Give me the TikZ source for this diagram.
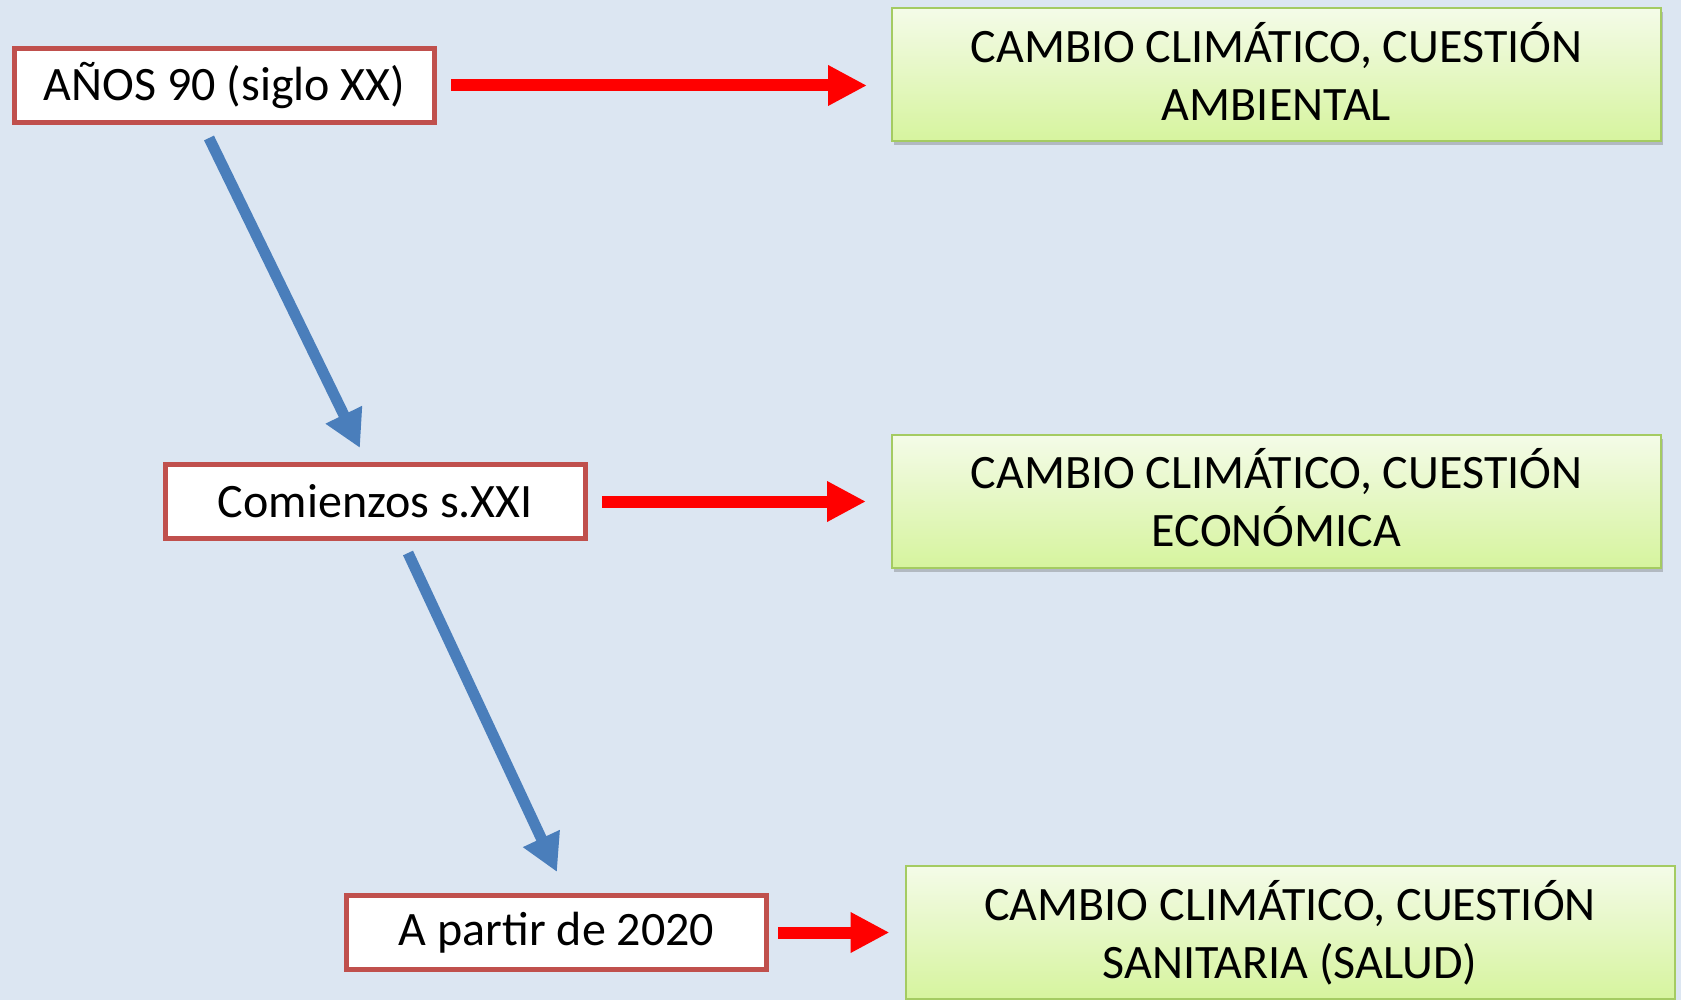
\documentclass[tikz,border=0pt]{standalone}
\usepackage{fontspec}
\setmainfont{Carlito}
\usetikzlibrary{arrows.meta,shadows}
\definecolor{bg}{HTML}{DCE6F2}
\definecolor{boxred}{HTML}{C0504D}
\definecolor{arrred}{HTML}{FF0000}
\definecolor{arrblue}{HTML}{4A7EBB}
\definecolor{gtop}{HTML}{F4FBE8}
\definecolor{gbot}{HTML}{D6F49E}
\definecolor{boxgreen}{HTML}{A4CB62}
\newcommand{\twolines}[2]{\begin{tabular}{@{}c@{}}\rule{0pt}{50.6pt}#1\\#2\end{tabular}}
\begin{document}
\begin{tikzpicture}[x=1pt,y=-1pt,
  redbox/.style={draw=boxred, line width=5pt, fill=white, minimum width=420pt, minimum height=74pt, inner sep=0pt, font=\fontsize{48}{58}\selectfont},
  greenbox/.style={draw=boxgreen, line width=2pt, top color=gtop, bottom color=gbot, minimum width=769pt, minimum height=133pt, inner sep=0pt, font=\fontsize{48}{58}\selectfont, drop shadow={shadow xshift=1.5pt, shadow yshift=-4pt, opacity=0.35, fill=black!60}},
  redarrow/.style={draw=arrred, line width=12pt, -{Triangle[length=39pt,width=38pt]}},
  bluearrow/.style={draw=arrblue, line width=11pt, -{Triangle[length=37pt,width=38pt]}}
]
\useasboundingbox (0,0) rectangle (1681,1000);
\fill[bg] (0,0) rectangle (1681,1000);

\node[redbox] (a) at (224.5,85.5) {AÑOS 90 (siglo XX)};
\node[redbox] (b) at (375.5,501.5) {Comienzos s.XXI};
\node[redbox] (c) at (556.5,932.5) {A partir de 2020};

\node[greenbox] (g1) at (1276.5,75) {\twolines{CAMBIO CLIMÁTICO, CUESTIÓN}{AMBIENTAL}};
\node[greenbox] (g2) at (1276.5,501) {\twolines{CAMBIO CLIMÁTICO, CUESTIÓN}{ECONÓMICA}};
\node[greenbox] (g3) at (1290,932.5) {\twolines{CAMBIO CLIMÁTICO, CUESTIÓN}{SANITARIA (SALUD)}};

\draw[redarrow] ([xshift=14pt]a.east) -- ([xshift=-24pt]a.east -| g1.west);
\draw[redarrow] ([xshift=14pt]b.east) -- ([xshift=-25pt]b.east -| g2.west);
\draw[redarrow] ([xshift=9pt]c.east) -- ([xshift=-15pt]c.east -| g3.west);

\draw[bluearrow] ([xshift=-15.5pt,yshift=-13pt]a.south) -- ([xshift=-15.5pt,yshift=14pt]b.north);
\draw[bluearrow] ([xshift=32.5pt,yshift=-12pt]b.south) -- ([xshift=0.5pt,yshift=21pt]c.north);
\end{tikzpicture}
\end{document}
